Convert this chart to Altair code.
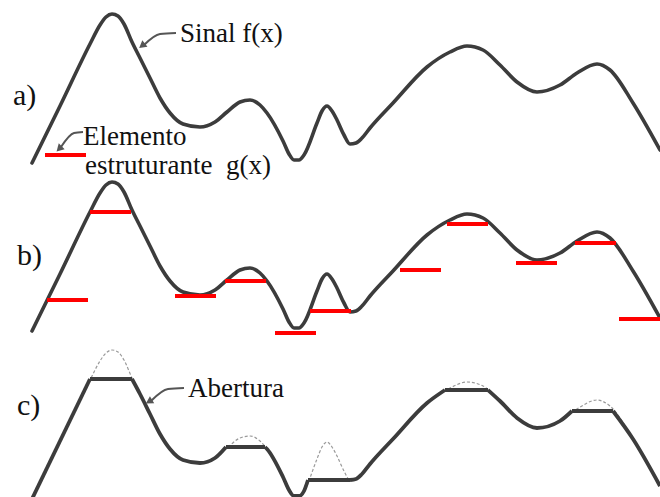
import altair as alt
import pandas as pd

# Signal f(x): sample positions and heights (height grows upward)
fx = [32, 60, 90, 100, 106, 112, 118, 124, 132, 140, 150, 160, 170, 183, 200, 215, 227,
      240, 250, 260, 267, 283, 289, 294, 299, 304, 317, 322, 327, 332, 337, 344, 350, 356,
      362, 370, 393, 427, 450, 467, 483, 500, 517, 537, 560, 577, 597, 610, 633, 660]
fh = [17, 74, 136, 155, 163, 166, 164, 156, 138, 122, 102, 82, 67, 56, 53, 58, 68,
      78, 80, 75, 67, 39, 26, 20, 20, 25, 57, 69, 74, 69, 60, 45, 36, 37,
      42, 52, 77, 113, 128, 134, 130, 115, 98, 88, 95, 107, 116, 110, 77, 30]

# vertical shift of the three stacked panels a), b), c)
panel_names = ["a", "b", "c"]
panel_shift = [0, -168, -336]
panel_label_x = [13, 17, 17]
panel_label_v = [75, -85, -235]

# opening of f(x) by the flat element: smooth pieces follow f, flat pieces cut the peaks
open_x = [32, 90,
          90, 132,
          132, 140, 150, 160, 170, 183, 200, 215, 226,
          226, 265,
          265, 267, 283, 289, 294, 299, 304, 308,
          308, 350,
          350, 356, 362, 370, 393, 427, 445,
          445, 488,
          488, 500, 517, 537, 560, 572,
          572, 613,
          613, 633, 660]
open_h = [17, 137,
          137, 137,
          137, 122, 102, 82, 67, 56, 53, 58, 69,
          69, 69,
          69, 67, 39, 26, 20, 20, 25, 36,
          36, 36,
          36, 37, 42, 52, 77, 113, 126,
          126, 126,
          126, 115, 98, 88, 95, 105,
          105, 105,
          105, 77, 30]
open_piece = [0, 0,
              1, 1,
              2, 2, 2, 2, 2, 2, 2, 2, 2,
              3, 3,
              4, 4, 4, 4, 4, 4, 4, 4,
              5, 5,
              6, 6, 6, 6, 6, 6, 6,
              7, 7,
              8, 8, 8, 8, 8, 8,
              9, 9,
              10, 10, 10]

# flat structuring element g(x): width, then left end and level of each placement
se_width = 41
se_a_x = [45]
se_a_h = [25]
se_b_x = [47, 90, 175, 225, 275, 310, 400, 447, 516, 575, 619]
se_b_h = [48, 136, 52, 67, 15, 37, 78, 124, 85, 105, 29]

# annotation texts
note_text = ["Sinal f(x)", "Elemento", "estruturante\u00a0 g(x)", "Abertura"]
note_x = [180, 83, 85, 188]
note_v = [138, 35, 6, -217]

# arrows pointing from the notes to the curves
arrow_id = [0, 0, 0, 1, 1, 1, 2, 2, 2]
arrow_x = [176, 160, 144, 83, 74, 61, 184, 168, 151]
arrow_v = [147, 146, 135, 48, 47, 33, -208, -209, -221]
head_x = [143, 60, 150]
head_v = [135, 32, -221]
head_angle = [232, 225, 239]

# ---- tables ----
sig_rows = []
for name, shift in zip(panel_names, panel_shift):
    for x, h in zip(fx, fh):
        sig_rows.append({"panel": name, "x": x, "v": h + shift})
sig = pd.DataFrame(sig_rows)

opening = pd.DataFrame({"x": open_x, "v": [h + panel_shift[2] for h in open_h],
                        "piece": open_piece})

se = pd.DataFrame({
    "x": se_a_x + se_b_x,
    "v": [h + panel_shift[0] for h in se_a_h] + [h + panel_shift[1] for h in se_b_h],
})
se["x_end"] = se["x"] + se_width

labels = pd.DataFrame({"text": [n + ")" for n in panel_names],
                       "x": panel_label_x, "v": panel_label_v})
notes = pd.DataFrame({"text": note_text, "x": note_x, "v": note_v})
arrows = pd.DataFrame({"id": arrow_id, "x": arrow_x, "v": arrow_v})
heads = pd.DataFrame({"x": head_x, "v": head_v, "angle": head_angle})

X = alt.X("x:Q", scale=alt.Scale(domain=[0, 660], nice=False, zero=False), axis=None)
Y = alt.Y("v:Q", scale=alt.Scale(domain=[-317, 180], nice=False, zero=False), axis=None)

CURVE = "#3c3c3c"

signal_ab = alt.Chart(sig[sig.panel != "c"]).mark_line(
    interpolate="monotone", color=CURVE, strokeWidth=3.6, strokeCap="round"
).encode(x=X, y=Y, detail="panel:N")

signal_c = alt.Chart(sig[sig.panel == "c"]).mark_line(
    interpolate="monotone", color="#9a9a9a", strokeWidth=1.2, strokeDash=[3, 2]
).encode(x=X, y=Y)

open_line = alt.Chart(opening).mark_line(
    interpolate="monotone", color=CURVE, strokeWidth=3.8, strokeJoin="miter"
).encode(x=X, y=Y, detail="piece:N")

se_rules = alt.Chart(se).mark_rule(color="#ff0000", strokeWidth=4).encode(
    x=X, x2="x_end:Q", y=Y
)

panel_text = alt.Chart(labels).mark_text(
    font="Liberation Serif", fontSize=30, align="left", baseline="alphabetic", color="#111111"
).encode(x=X, y=Y, text="text:N")

note_marks = alt.Chart(notes).mark_text(
    font="Liberation Serif", fontSize=27, align="left", baseline="alphabetic", color="#111111"
).encode(x=X, y=Y, text="text:N")

arrow_lines = alt.Chart(arrows).mark_line(
    interpolate="monotone", color="#555555", strokeWidth=2
).encode(x=X, y=Y, detail="id:N")

arrow_heads = alt.Chart(heads).mark_point(
    shape="triangle", filled=True, color="#555555", size=70, opacity=1
).encode(x=X, y=Y, angle=alt.Angle("angle:Q", scale=None))

chart = alt.layer(
    signal_c, open_line, signal_ab, se_rules, arrow_lines, arrow_heads, panel_text, note_marks
).properties(
    width=660, height=497, autosize=alt.AutoSizeParams(type="none"), padding=0,
    background="white"
).configure_view(stroke=None)

chart.save("out.html", embed_options={"renderer": "svg", "actions": False})
